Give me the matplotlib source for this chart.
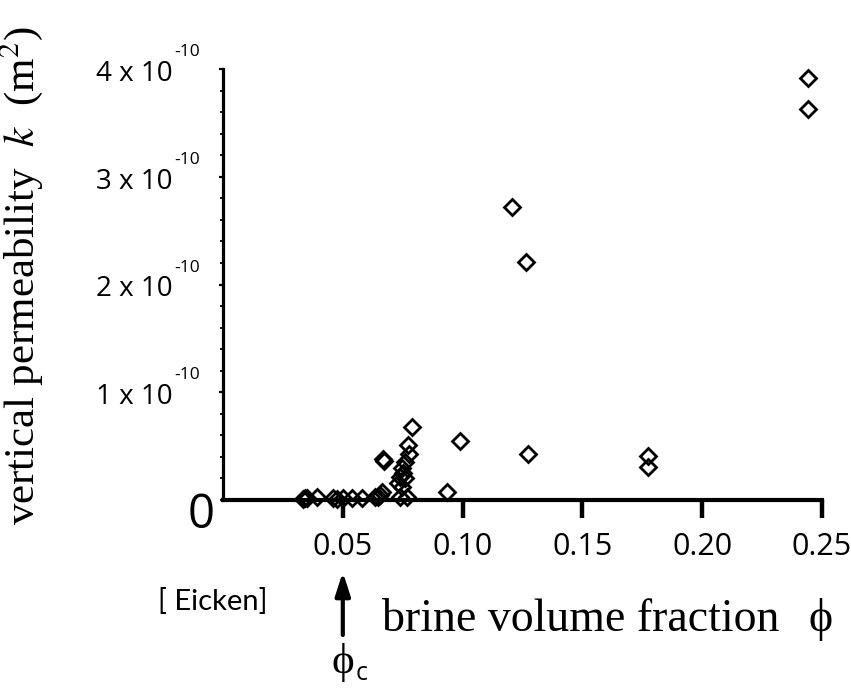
import numpy as np
import matplotlib
matplotlib.use('Agg')
import matplotlib.pyplot as plt
from matplotlib.ticker import MultipleLocator

# brine volume fraction phi
phi = [0.0335, 0.0342, 0.0350, 0.0391, 0.0461, 0.0475, 0.0502, 0.0537, 0.0579,
       0.0635, 0.0648, 0.0656, 0.0662, 0.0669, 0.0673,
       0.0739, 0.0767, 0.0732, 0.0746, 0.0760, 0.0739, 0.0753, 0.0746,
       0.0760, 0.0776, 0.0774, 0.0788,
       0.0933, 0.0990, 0.1205, 0.1265, 0.1271, 0.1772, 0.1772, 0.2441, 0.2441]
# vertical permeability k, in units of 1e-10 m^2
k_e10 = [0.01, 0.02, 0.015, 0.03, 0.02, 0.01, 0.02, 0.02, 0.02,
         0.03, 0.03, 0.046, 0.077, 0.378, 0.36,
         0.03, 0.03, 0.155, 0.124, 0.202, 0.217, 0.248, 0.295,
         0.356, 0.425, 0.512, 0.673,
         0.075, 0.55, 2.72, 2.21, 0.43, 0.41, 0.31, 3.92, 3.63]

x_ticks = [0.05, 0.10, 0.15, 0.20, 0.25]
x_ticklabels = ['0.05', '0.10', '0.15', '0.20', '0.25']
y_ticks_e10 = [1, 2, 3, 4]

W, H = 851, 688
fig = plt.figure(figsize=(W / 100, H / 100), dpi=100)
ax = fig.add_axes([223 / W, (H - 500) / H, 599 / W, 431 / H])

k = np.array(k_e10) * 1e-10
ax.plot(phi, k, linestyle='none', marker='D', markersize=8.3, mfc='none',
        mec='black', mew=2, clip_on=False, zorder=3)

ax.set_xlim(0, 0.25)
ax.set_ylim(0, 4e-10)
ax.spines['top'].set_visible(False)
ax.spines['right'].set_visible(False)
ax.spines['bottom'].set_linewidth(3)
ax.spines['left'].set_linewidth(2.3)

ax.set_xticks(x_ticks)
ax.set_xticklabels(x_ticklabels, fontfamily='Open Sans', fontsize=22)
ax.tick_params(axis='x', direction='out', length=13, width=3.2, pad=10)

# y tick labels drawn by hand: "n x 10" with a raised "-10"
ax.set_yticks(np.array(y_ticks_e10) * 1e-10)
ax.set_yticklabels([])
ax.yaxis.set_minor_locator(MultipleLocator(0.2e-10))
ax.tick_params(axis='y', which='major', direction='out', length=3, width=1.6)
ax.tick_params(axis='y', which='minor', direction='out', length=2.2, width=1.3)
for v in y_ticks_e10:
    ax.annotate(f'{v} x 10', xy=(0, v * 1e-10), xytext=(-36, -3.6),
                textcoords='offset points', ha='right', va='center',
                fontsize=20, fontfamily='Open Sans', annotation_clip=False)
    ax.annotate('-10', xy=(0, v * 1e-10), xytext=(-35, 12.2),
                textcoords='offset points', ha='left', va='center',
                fontsize=12.5, fontfamily='Open Sans', annotation_clip=False)

# big zero at the origin
ax.annotate('0', xy=(0, 0), xytext=(-16, -11), textcoords='offset points',
            ha='center', va='center', fontsize=34, fontfamily='Open Sans')

ax.set_ylabel('vertical permeability  $k$  (m$^2$)', fontsize=31,
              fontfamily='Liberation Serif', math_fontfamily='stix')
ax.yaxis.set_label_coords((45 - 223) / 599, (500 - 276) / 431)

fig.text(382 / W, (H - 631) / H, 'brine volume fraction', fontsize=33,
         fontfamily='Liberation Serif', ha='left', va='baseline')
fig.text(821 / W, (H - 631) / H, 'ϕ', fontsize=33,
         fontfamily=['Liberation Serif', 'DejaVu Serif'], ha='center', va='baseline')

# critical fraction arrow
ax.annotate('', xy=(0.05, (H - 572) / H), xytext=(0.05, (H - 635) / H),
            xycoords=('data', 'figure fraction'), textcoords=('data', 'figure fraction'),
            arrowprops=dict(arrowstyle='-|>,head_length=1.4,head_width=0.45',
                            color='black', lw=3, shrinkA=0, shrinkB=0))
ax.annotate('ϕ', xy=(0.05, (H - 663) / H), xycoords=('data', 'figure fraction'),
            ha='center', va='center', fontsize=31,
            fontfamily=['Liberation Serif', 'DejaVu Serif'], annotation_clip=False)
ax.annotate('c', xy=(0.05, (H - 673) / H), xycoords=('data', 'figure fraction'),
            xytext=(9, 0), textcoords='offset points',
            ha='left', va='center', fontsize=18, fontfamily='Open Sans',
            annotation_clip=False)

fig.text(213 / W, (H - 602) / H, '[ Eicken]', fontsize=21, fontfamily='Lato',
         ha='center', va='center')

fig.savefig('out.png', dpi=100)
